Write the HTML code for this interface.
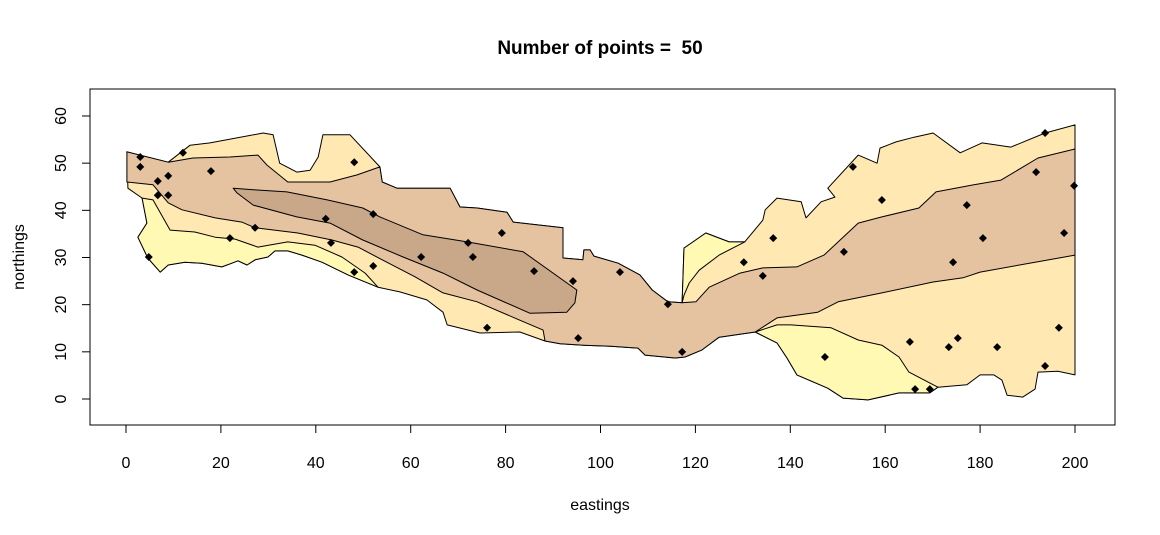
<!DOCTYPE html>
<html><head><meta charset="utf-8"><style>
body{margin:0;background:#fff;}
svg{display:block;font-family:"Liberation Sans",Arial,sans-serif;}
</style></head><body>
<svg id="chart" width="1160" height="535" viewBox="0 0 1160 535" xmlns="http://www.w3.org/2000/svg">
<rect width="1160" height="535" fill="#fff"/>
<text x="600" y="54" text-anchor="middle" font-size="19" font-weight="bold" style="white-space:pre">Number of points =  50</text>
<text x="600" y="510" text-anchor="middle" font-size="16">eastings</text>
<text transform="translate(24,257) rotate(-90)" text-anchor="middle" font-size="16">northings</text>
<g id="regions"></g>
<g id="points"></g>
<g id="axes"></g>
<rect x="90" y="89" width="1025" height="336" fill="none" stroke="#000" stroke-width="1"/>
</svg>
<script>
const xTicks=[0,20,40,60,80,100,120,140,160,180,200];
const yTicks=[0,10,20,30,40,50,60];
const outerRegion=[[0.2,52.4],[8.9,50.2],[13.5,53.8],[17.7,54.3],[28.9,56.4],[31.0,56.0],[32.4,50.0],[36.0,48.1],[38.8,48.5],[40.5,51.3],[41.5,56.0],[47.2,56.0],[53.5,49.2],[54.0,46.0],[57.1,44.7],[68.3,44.7],[70.4,40.7],[74.0,40.5],[80.3,39.6],[81.6,37.5],[92.1,36.3],[92.1,29.9],[96.3,29.5],[96.5,31.6],[97.8,31.6],[98.6,30.3],[103.7,28.8],[108.3,26.3],[110.9,23.1],[114.2,20.6],[117.2,20.4],[117.6,32.0],[122.2,35.2],[127.1,33.3],[130.4,33.3],[134.2,37.9],[134.7,40.1],[137.2,42.6],[142.3,41.8],[143.3,38.4],[146.5,41.8],[149.4,42.8],[147.9,44.7],[154.3,51.7],[158.3,50.0],[158.9,53.2],[162.3,54.5],[166.1,55.5],[170.1,56.4],[175.8,52.2],[180.4,54.3],[186.5,53.4],[193.7,56.4],[200,58.1],[200,5.1],[196.4,5.9],[192.2,5.7],[191.6,2.1],[189.0,0.4],[185.7,0.8],[184.6,4.0],[182.9,5.1],[180.0,5.1],[177.2,3.0],[171.1,2.5],[169.4,1.3],[162.9,1.3],[156.4,-0.2],[151.1,0.2],[147.9,2.3],[141.4,5.1],[139.3,8.7],[137.2,11.9],[132.6,14.2],[125.0,13.1],[121.4,10.4],[117.8,8.9],[115.7,8.7],[109.4,9.3],[107.9,10.8],[102.2,11.2],[96.5,11.4],[91.5,11.7],[88.3,12.3],[83.0,14.2],[74.6,14.0],[67.7,15.7],[66.8,18.4],[63.4,21.0],[57.7,22.7],[53.1,23.7],[46.8,26.3],[41.3,29.0],[37.1,30.5],[34.1,31.4],[31.4,31.4],[29.9,30.1],[27.2,29.5],[25.5,28.4],[23.6,29.3],[22.3,28.8],[20.2,28.0],[16.0,28.8],[12.4,29.0],[8.9,28.4],[7.2,26.9],[4.6,29.9],[2.5,34.3],[4.4,37.3],[4.0,39.4],[3.4,42.6],[0.4,44.7]];
const yellowLeft=[[3.4,42.6],[4.0,39.4],[4.4,37.3],[2.5,34.3],[4.6,29.9],[7.2,26.9],[8.9,28.4],[12.4,29.0],[16.0,28.8],[20.2,28.0],[22.3,28.8],[23.6,29.3],[25.5,28.4],[27.2,29.5],[29.9,30.1],[31.4,31.4],[34.1,31.4],[37.1,30.5],[41.3,29.0],[46.8,26.3],[53.1,23.7],[50.4,26.7],[45.5,30.1],[39.8,32.6],[34.1,33.3],[27.8,32.2],[23.0,33.9],[18.8,34.3],[14.5,35.4],[9.3,35.8],[5.7,42.2]];
const yellowMid=[[117.2,20.4],[117.6,32.0],[122.2,35.2],[127.1,33.3],[130.4,33.3],[125.0,30.5],[120.8,27.3],[118.7,24.6],[117.6,22.0]];
const yellowRight=[[132.6,14.2],[137.2,15.7],[140.1,15.7],[148.6,15.1],[154.3,12.5],[159.3,11.4],[162.9,8.9],[165.0,5.7],[171.1,2.5],[169.4,1.3],[162.9,1.3],[156.4,-0.2],[151.1,0.2],[147.9,2.3],[141.4,5.1],[139.3,8.7],[137.2,11.9]];
const tanRegion=[[0.2,52.4],[8.9,50.2],[14.1,51.1],[21.9,51.3],[27.8,51.7],[29.7,49.6],[34.1,46.0],[43.0,46.0],[48.7,47.5],[53.5,49.2],[54.0,46.0],[57.1,44.7],[68.3,44.7],[70.4,40.7],[74.0,40.5],[80.3,39.6],[81.6,37.5],[92.1,36.3],[92.1,29.9],[96.3,29.5],[96.5,31.6],[97.8,31.6],[98.6,30.3],[103.7,28.8],[108.3,26.3],[110.9,23.1],[114.2,20.6],[117.2,20.4],[120.1,20.6],[122.9,23.7],[129.4,26.7],[134.2,27.8],[141.4,28.0],[147.1,30.5],[154.3,37.3],[159.3,38.6],[167.1,40.5],[170.7,43.9],[178.7,45.4],[184.4,46.4],[192.2,51.1],[200,53.0],[200,30.5],[191.6,29.0],[180.0,26.9],[176.4,25.7],[170.1,24.8],[159.3,22.5],[150.1,20.6],[145.8,18.4],[137.2,17.2],[132.6,14.2],[125.0,13.1],[121.4,10.4],[117.8,8.9],[115.7,8.7],[109.4,9.3],[107.9,10.8],[102.2,11.2],[96.5,11.4],[91.5,11.7],[88.3,12.3],[87.9,14.6],[83.0,16.7],[74.0,20.6],[66.8,22.5],[60.9,25.9],[54.0,29.5],[48.9,32.2],[43.4,33.7],[36.2,35.2],[27.2,36.3],[24.4,37.5],[18.8,38.4],[11.8,40.1],[8.9,41.6],[5.7,45.4],[0.2,46.0]];
const darkRegion=[[22.6,44.7],[27.6,44.3],[33.9,43.9],[42.4,42.2],[49.9,40.5],[53.5,38.6],[62.6,34.8],[71.9,33.3],[83.7,31.2],[95.0,23.1],[94.6,20.4],[92.9,18.4],[85.1,18.2],[74.0,23.1],[66.8,26.7],[58.4,30.1],[49.9,33.7],[43.0,37.3],[36.0,38.6],[26.8,41.1],[23.4,43.7]];
const pointEast=[3.0,3.0,12.0,17.9,6.7,8.9,6.7,8.9,48.1,4.8,21.9,27.2,42.1,52.1,43.2,52.1,48.1,72.1,73.1,62.2,79.2,86.0,94.2,76.1,95.3,104.1,114.2,117.2,130.2,134.2,136.4,153.2,159.3,151.3,177.2,180.6,174.3,193.7,191.8,199.8,197.7,196.6,193.7,183.6,175.3,173.4,165.2,147.3,166.3,169.4];
const pointNorth=[51.3,49.2,52.2,48.3,46.2,47.3,43.2,43.2,50.2,30.1,34.1,36.3,38.2,39.2,33.1,28.2,26.9,33.1,30.1,30.1,35.2,27.1,25.0,15.1,12.9,26.9,20.1,10.0,29.0,26.1,34.1,49.2,42.2,31.2,41.1,34.1,29.0,56.4,48.1,45.2,35.2,15.1,7.0,11.0,12.9,11.0,12.1,8.9,2.1,2.1];

const NS='http://www.w3.org/2000/svg';
const X=e=>126+4.745*e;
const Y=n=>399-4.717*n;
function poly(arr,fill,name){
  const p=document.createElementNS(NS,'polygon');
  p.setAttribute('points',arr.map(d=>X(d[0]).toFixed(1)+','+Y(d[1]).toFixed(1)).join(' '));
  p.setAttribute('fill',fill);p.setAttribute('stroke','#000');p.setAttribute('stroke-width','1');p.setAttribute('stroke-linejoin','round');
  
  
  document.getElementById('regions').appendChild(p);
}
poly(outerRegion,'#FFE8B2','region-level-2');
poly(yellowLeft,'#FFF9B4','region-level-1-left');
poly(yellowMid,'#FFF9B4','region-level-1-middle');
poly(yellowRight,'#FFF9B4','region-level-1-right');
poly(tanRegion,'#E5C2A0','region-level-3');
poly(darkRegion,'#C9A789','region-level-4');

const pg=document.getElementById('points');
for(let i=0;i<pointEast.length;i++){
  const cx=X(pointEast[i]),cy=Y(pointNorth[i]);
  const d=document.createElementNS(NS,'polygon');
  d.setAttribute('points',`${cx},${cy-4} ${cx+4},${cy} ${cx},${cy+4} ${cx-4},${cy}`);
  d.setAttribute('fill','#000');
  
  
  pg.appendChild(d);
}
const ax=document.getElementById('axes');
function line(x1,y1,x2,y2){const l=document.createElementNS(NS,'line');l.setAttribute('x1',x1);l.setAttribute('y1',y1);l.setAttribute('x2',x2);l.setAttribute('y2',y2);l.setAttribute('stroke','#000');ax.appendChild(l);return l;}
const xl=line(X(xTicks[0]),425,X(xTicks[xTicks.length-1]),425);


xTicks.forEach(v=>{
  const t=line(X(v),425,X(v),433);
  
  
  const tx=document.createElementNS(NS,'text');
  tx.setAttribute('x',X(v));tx.setAttribute('y',468);tx.setAttribute('text-anchor','middle');tx.setAttribute('font-size','16');
  tx.textContent=v;
  
  
  ax.appendChild(tx);
});
const yl=line(90,Y(yTicks[0]),90,Y(yTicks[yTicks.length-1]));


yTicks.forEach(v=>{
  const t=line(82,Y(v),90,Y(v));
  
  
  const tx=document.createElementNS(NS,'text');
  tx.setAttribute('transform',`translate(66,${Y(v)}) rotate(-90)`);tx.setAttribute('text-anchor','middle');tx.setAttribute('font-size','16');
  tx.textContent=v;
  
  
  ax.appendChild(tx);
});
</script>
</body></html>
